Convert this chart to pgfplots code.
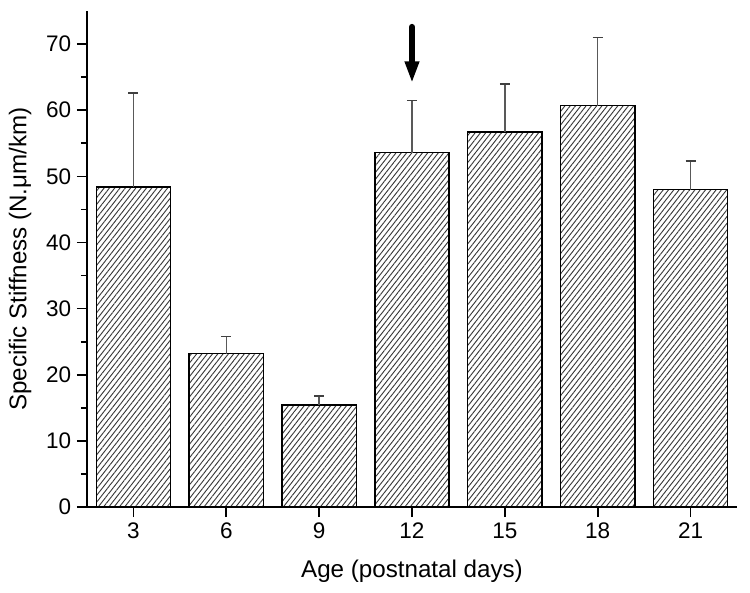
\documentclass[border=0pt]{standalone}
\usepackage{pgfplots}
\pgfplotsset{compat=1.18}
\usepackage{fontspec}
\setmainfont{Liberation Sans}
\usetikzlibrary{patterns.meta,arrows.meta}
\begin{document}
\begin{tikzpicture}
\begin{axis}[
  scale only axis,
  width=390pt, height=297.6pt,
  xmin=-0.5, xmax=6.5,
  ymin=0, ymax=75,
  axis lines=left,
  axis line style={-, line width=1pt},
  xtick={0,1,2,3,4,5,6},
  xticklabels={3,6,9,12,15,18,21},
  ytick={0,10,20,30,40,50,60,70},
  minor ytick={5,15,25,35,45,55,65},
  tick align=outside,
  major tick length=6pt,
  minor tick length=3.6pt,
  tick style={black, line width=1pt},
  /pgf/number format/assume math mode=true,
  ticklabel style={font=\fontsize{13.5}{15}\selectfont},
  xlabel={Age (postnatal days)},
  ylabel={Specific Stiffness (N.μm/km)},
  label style={font=\fontsize{14.5}{17}\selectfont},
  xlabel style={at={(axis description cs:0.5,-0.129)}, anchor=center},
  ylabel style={at={(axis description cs:-0.103,0.5)}, anchor=center},
  clip=false,
]
\path (axis description cs:-0.1338,-0.1714) rectangle (axis description cs:1.02,1.0222);
\addplot[ybar, bar width=0.8, draw=black, line width=0.9pt, fill=white,
  postaction={pattern={Lines[angle=52,distance=2.5pt,line width=0.55pt]}, pattern color=black!78},
  error bars/.cd, y dir=plus, y explicit,
  error bar style={black!65, line width=0.8pt},
  error mark options={rotate=90, mark size=3pt, line width=0.9pt, black!75}]
  coordinates {
  (0,48.4) +- (0,14.2)
  (1,23.2) +- (0,2.6)
  (2,15.4) +- (0,1.4)
  (3,53.6) +- (0,7.9)
  (4,56.7) +- (0,7.3)
  (5,60.7) +- (0,10.3)
  (6,48.0) +- (0,4.3)
  };
\draw[-{Triangle[width=8pt,length=13pt]}, line width=3.6pt, line cap=round, black]
  (axis cs:3,72.6) -- (axis cs:3,64.1);
\end{axis}
\end{tikzpicture}
\end{document}
